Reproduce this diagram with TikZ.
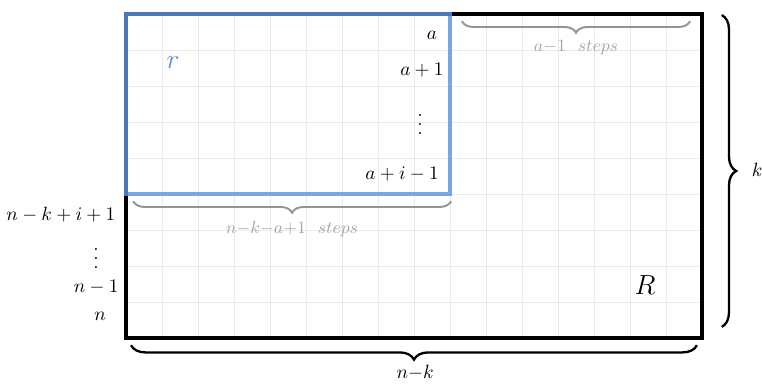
\documentclass[tikz,border=0pt]{standalone}
\usetikzlibrary{decorations.pathreplacing}
\definecolor{rblue}{RGB}{91,148,227}
\definecolor{rtext}{RGB}{90,145,215}
\definecolor{gridc}{RGB}{234,234,234}
\newcommand\myvdots{\vbox{\baselineskip4.7pt\lineskiplimit0pt\hbox{.}\hbox{.}\hbox{.}}}
\begin{document}
\begin{tikzpicture}[x=18.75pt,y=18.75pt,
  gridline/.style={draw=gridc,line width=0.5pt},
  outer/.style={draw=black,line width=1.6pt},
  inner/.style={draw=rblue,line width=2pt,draw opacity=0.82},
  lbl/.style={inner sep=0pt,font=\normalsize},
  bigbrace/.style={decorate,decoration={brace,amplitude=7.5pt},line width=1.2pt},
  greybrace/.style={decorate,decoration={brace,amplitude=6pt},line width=1pt,draw=black!42},
  greylbl/.style={inner sep=0pt,font=\small,text=black!35}]
\useasboundingbox (-3.5,-1.25) rectangle (17.667,9.389);
\draw[gridline,step=1] (0,0) grid (16,9);
\draw[outer] (0,0) rectangle (16,9);
\draw[inner] (0,4) rectangle (9,9);
% labels inside r
\node[lbl] (la) at (8.5,8.42) {$a$};
\node[lbl] (la1) at (8.22,7.44) {$a+1$};
\node[lbl] (lvd) at (8.17,5.92) {\myvdots};
\node[lbl] (lai) at (7.67,4.56) {$a+i-1$};
\node[inner sep=0pt,font=\Large,text=rtext] (r) at (1.31,7.64) {$r$};
\node[inner sep=0pt,font=\Large] (R) at (14.42,1.47) {$R$};
% left labels
\node[lbl] (lnk) at (-1.81,3.42) {$n-k+i+1$};
\node[lbl] (lvd2) at (-0.83,2.22) {\myvdots};
\node[lbl] (ln1) at (-0.83,1.42) {$n-1$};
\node[lbl] (ln) at (-0.72,0.61) {$n$};
% braces
\coordinate (kt) at (16.55,8.97);
\coordinate (kb) at (16.55,0.31);
\draw[bigbrace] (kt) -- (kb);
\node[lbl] (k) at (17.53,4.67) {$k$};
\coordinate (br) at (15.86,-0.2);
\coordinate (bl) at (0.14,-0.2);
\draw[bigbrace] (br) -- (bl);
\node[lbl] (nk) at (8.03,-0.97) {$n{-}k$};
\coordinate (gr1) at (15.67,8.8);
\coordinate (gl1) at (9.33,8.8);
\draw[greybrace] (gr1) -- (gl1);
\node[greylbl] (st1) at (12.5,8.08) {$a{-}1\ \ steps$};
\coordinate (gr2) at (9.03,3.8);
\coordinate (gl2) at (0.2,3.8);
\draw[greybrace] (gr2) -- (gl2);
\node[greylbl] (st2) at (4.61,3.03) {$n{-}k{-}a{+}1\ \ steps$};
\end{tikzpicture}
\end{document}
